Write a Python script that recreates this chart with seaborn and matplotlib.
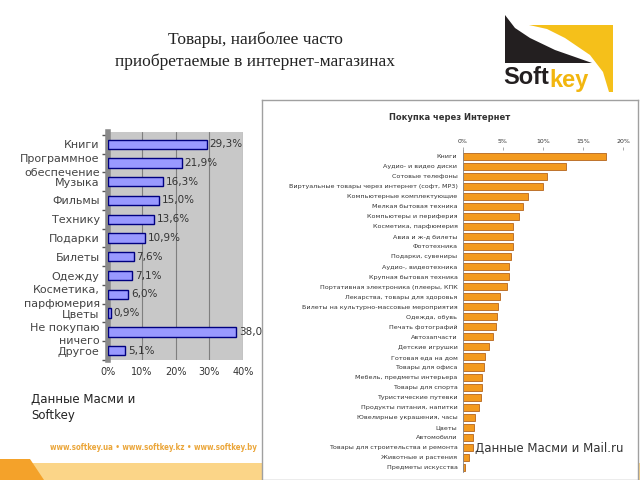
import matplotlib
matplotlib.use("Agg")
import matplotlib.pyplot as plt
from matplotlib.patches import Polygon, Rectangle
from matplotlib.ticker import FuncFormatter
import seaborn as sns
import numpy as np

# left chart: Масми / Softkey
left_labels = ["Книги", "Программное\nобеспечение", "Музыка", "Фильмы", "Технику",
               "Подарки", "Билеты", "Одежду", "Косметика,\nпарфюмерия", "Цветы",
               "Не покупаю\nничего", "Другое"]
left_values = [29.3, 21.9, 16.3, 15.0, 13.6, 10.9, 7.6, 7.1, 6.0, 0.9, 38.0, 5.1]
left_ticks = [0, 10, 20, 30, 40]

# right chart: Масми / Mail.ru
right_labels = ["Книги", "Аудио- и видео диски", "Сотовые телефоны",
                "Виртуальные товары через интернет (софт, MP3)",
                "Компьютерные комплектующие", "Мелкая бытовая техника",
                "Компьютеры и периферия", "Косметика, парфюмерия",
                "Авиа и ж-д билеты", "Фототехника", "Подарки, сувениры",
                "Аудио-, видеотехника", "Крупная бытовая техника",
                "Портативная электроника (плееры, КПК",
                "Лекарства, товары для здоровья",
                "Билеты на культурно-массовые мероприятия", "Одежда, обувь",
                "Печать фотографий", "Автозапчасти", "Детские игрушки",
                "Готовая еда на дом", "Товары для офиса",
                "Мебель, предметы интерьера", "Товары для спорта",
                "Туристические путевки", "Продукты питания, напитки",
                "Ювелирные украшения, часы", "Цветы", "Автомобили",
                "Товары для строительства и ремонта", "Животные и растения",
                "Предметы искусства"]
right_values = [17.9, 12.9, 10.5, 10.0, 8.1, 7.5, 7.0, 6.3, 6.2, 6.2, 6.0, 5.8,
                5.8, 5.5, 4.6, 4.4, 4.3, 4.1, 3.7, 3.2, 2.8, 2.6, 2.4, 2.4, 2.2,
                2.0, 1.5, 1.4, 1.3, 1.2, 0.8, 0.25]
right_ticks = [0, 5, 10, 15, 20]

sns.set_theme(style="white")
plt.rcParams["font.family"] = ["DejaVu Sans"]
txt = "#333333"

fig = plt.figure(figsize=(6.4, 4.8), dpi=100)

# slide background: band, web strip, logo (pixel coordinates)
bg = fig.add_axes([0, 0, 1, 1])
bg.set_xlim(0, 640)
bg.set_ylim(480, 0)
bg.axis("off")
bg.add_patch(Rectangle((0, 463), 640, 17, color="#FBD588", lw=0))
bg.add_patch(Polygon([(0, 459), (30, 459), (44, 480), (0, 480)], color="#F4A22A", lw=0))
bg.text(50, 448, "www.softkey.ua • www.softkey.kz • www.softkey.by",
        fontsize=5.7, fontweight="bold", fontstretch="condensed", color="#EBA63A",
        va="center", family=["Liberation Sans Narrow", "DejaVu Sans"])
bg.text(31, 393, "Данные Масми и\nSoftkey", fontsize=8.5, color="#222222",
        va="top", linespacing=1.3)
bg.text(255, 51, "Товары, наиболее часто\nприобретаемые в интернет-магазинах",
        fontsize=12.5, ha="center", va="center", color="#222222", linespacing=1.4,
        family=["Liberation Serif", "DejaVu Serif"])

# Softkey logo
yel = "#F5C01A"
bg.add_patch(Polygon([(529, 25), (613, 25), (613, 92), (609, 92), (603, 72),
                      (590, 55), (565, 38), (547, 29)], color=yel, lw=0))
bg.add_patch(Polygon([(505, 15), (515, 28), (530, 38), (555, 50), (575, 57),
                      (592, 63), (505, 63)], color="#231F20", lw=0))
bg.text(503, 78, "Soft", fontsize=17, fontweight="bold", color="#231F20",
        va="center", family=["Liberation Sans", "DejaVu Sans"])
bg.text(549, 80, "key", fontsize=17, fontweight="bold", color="#F2B60F",
        va="center", family=["Liberation Sans", "DejaVu Sans"])

# left chart
ax1 = fig.add_axes([108 / 640, 1 - 360 / 480, 135 / 640, 228 / 480])
ax1.set_facecolor("#C8C8C8")
sns.barplot(x=left_values, y=left_labels, ax=ax1, color="#9999FF",
            edgecolor="#000080", linewidth=1.0, width=0.5, saturation=1, zorder=3)
ax1.set_xlim(0, 40)
ax1.set_ylim(11.5, -0.65)
ax1.set_xticks(left_ticks)
ax1.xaxis.set_major_formatter(FuncFormatter(lambda v, p: f"{v:.0f}%"))
ax1.grid(axis="x", color="#7F7F7F", lw=0.8, zorder=0)
ax1.set_yticks(np.arange(-0.5, len(left_labels)), minor=True)
ax1.tick_params(axis="y", which="major", length=0, labelsize=8, labelcolor="#444444", pad=6)
ax1.tick_params(axis="y", which="minor", length=4, color="#555555", left=True)
ax1.tick_params(axis="x", length=0, labelsize=7, labelcolor=txt, pad=5)
for lab in ax1.get_yticklabels():
    lab.set_linespacing(1.45)
for s in ["top", "right", "bottom"]:
    ax1.spines[s].set_visible(False)
ax1.spines["left"].set_color("#8A8A8A")
ax1.spines["left"].set_linewidth(4)
ax1.set_xlabel("")
ax1.set_ylabel("")
ax1.bar_label(ax1.containers[0],
              labels=[f"{v:.1f}%".replace(".", ",") for v in left_values],
              fontsize=7.5, color=txt, padding=2)

# right chart frame
frame = fig.add_axes([262 / 640, 0, 376 / 640, 380 / 480])
frame.set_xticks([])
frame.set_yticks([])
frame.set_facecolor("white")
for s in frame.spines.values():
    s.set_color("#A0A0A0")
    s.set_linewidth(1)
frame.text(0.5, 0.955, "Покупка через Интернет", transform=frame.transAxes,
           ha="center", va="center", fontsize=6, fontweight="bold", color=txt)

ax2 = fig.add_axes([463 / 640, 1 - 472 / 480, 160 / 640, 322 / 480])
ax2.set_facecolor("none")
sns.barplot(x=right_values, y=right_labels, ax=ax2, color="#F39A1F",
            edgecolor="#B5651D", linewidth=0.6, width=0.7, saturation=1)
ax2.set_xlim(0, 20)
ax2.set_ylim(31.45, -0.6)
ax2.set_xticks(right_ticks)
ax2.xaxis.tick_top()
ax2.xaxis.set_major_formatter(FuncFormatter(lambda v, p: f"{v:.0f}%"))
ax2.tick_params(axis="x", top=True, length=2, width=0.5, color="#888888",
                labelsize=4.5, labelcolor=txt, pad=2)
ax2.tick_params(axis="y", length=0, labelsize=4.6, labelcolor=txt, pad=4)
for s in ["top", "right", "bottom"]:
    ax2.spines[s].set_visible(False)
ax2.spines["left"].set_color("#888888")
ax2.spines["left"].set_linewidth(0.6)
ax2.set_xlabel("")
ax2.set_ylabel("")
fig.text(475 / 640, 1 - 448 / 480, "Данные Масми и Mail.ru", fontsize=8.5,
         color=txt, va="center")

fig.savefig("out.png", dpi=100)
